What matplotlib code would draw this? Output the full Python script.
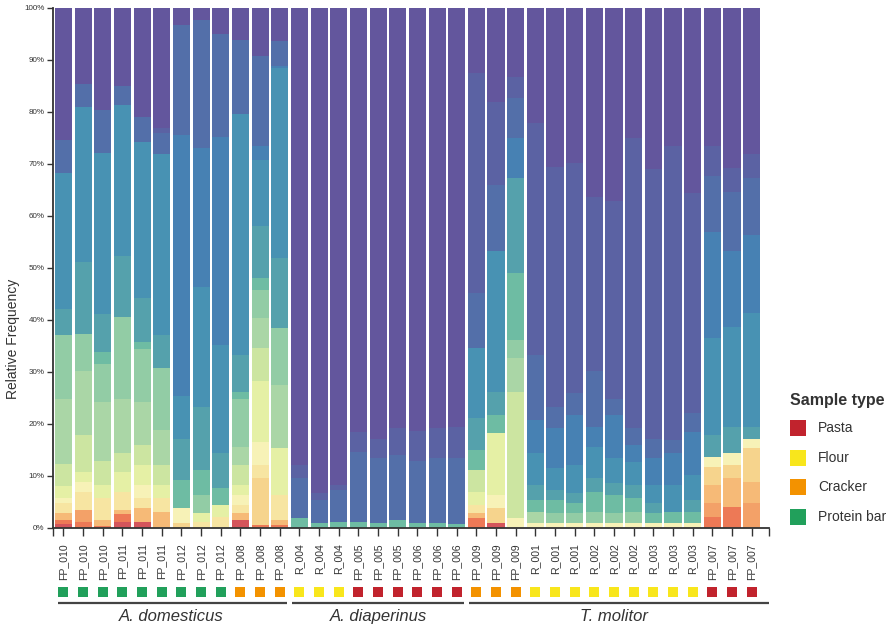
import numpy as np
import matplotlib
matplotlib.use("Agg")
import matplotlib.pyplot as plt
from matplotlib.colors import rgb_to_hsv, hsv_to_rgb
from matplotlib.patches import Rectangle

plt.rcParams['font.family'] = ['Liberation Sans', 'DejaVu Sans']

# --- Sample labels and types (left to right) ---
domesticus_ids = ["FP_010"] * 3 + ["FP_011"] * 3 + ["FP_012"] * 3 + ["FP_008"] * 3
domesticus_types = ["Protein bar"] * 9 + ["Cracker"] * 3
diaperinus_ids = ["R_004"] * 3 + ["FP_005"] * 3 + ["FP_006"] * 3
diaperinus_types = ["Flour"] * 3 + ["Pasta"] * 6
molitor_ids = ["FP_009"] * 3 + ["R_001"] * 3 + ["R_002"] * 3 + ["R_003"] * 3 + ["FP_007"] * 3
molitor_types = ["Cracker"] * 3 + ["Flour"] * 9 + ["Pasta"] * 3

groups = ["A. domesticus", "A. diaperinus", "T. molitor"]
type_names = ["Pasta", "Flour", "Cracker", "Protein bar"]

# --- Relative frequency (%) of each taxon layer per sample, bottom layer first ---
domesticus = [
    [0, 0.7, 0.8, 0, 1.3, 0, 2.0, 0.9, 2.3, 4.4, 12.5, 12.2, 0, 5.1, 26.0, 0, 6.4, 0, 25.4],
    [0, 0, 1.2, 2.3, 0, 0, 3.5, 1.9, 1.9, 7.1, 12.2, 7.3, 0, 13.8, 29.8, 0, 4.3, 0, 14.7],
    [0, 0, 0.3, 0, 1.2, 0, 4.2, 0, 2.6, 4.5, 11.5, 7.2, 2.4, 7.2, 31.1, 0, 8.2, 0, 19.6],
    [0, 1.2, 1.4, 0, 0.9, 0, 3.5, 0, 3.8, 3.6, 10.5, 15.7, 0, 11.8, 29.0, 0, 3.6, 0, 15.0],
    [0, 1.2, 0, 0, 2.6, 0, 1.9, 2.6, 3.8, 3.9, 8.3, 10.2, 1.3, 8.4, 30.1, 0, 4.7, 0, 21.0],
    [0, 0, 0, 0, 3.1, 0, 2.6, 0, 2.6, 3.8, 6.7, 11.9, 0, 6.4, 34.9, 0, 3.9, 1.1, 23.0],
    [0, 0, 0, 0, 0, 0.9, 0, 2.9, 0, 0, 0, 0, 5.4, 8.0, 8.1, 50.2, 21.3, 0, 3.2],
    [0, 0, 0, 0, 0, 0, 1.2, 0, 1.6, 0, 0, 3.6, 4.8, 12.1, 23.1, 26.6, 24.7, 0, 2.3],
    [0, 0, 0, 0, 0, 0, 2.2, 0, 2.2, 0, 0, 0, 3.2, 6.8, 20.8, 39.9, 19.9, 0, 5.0],
    [0, 1.5, 0, 0, 1.3, 0, 1.6, 2.0, 1.9, 3.8, 3.5, 9.3, 1.3, 7.0, 46.4, 0, 14.3, 0, 6.1],
    [0, 0, 0.6, 0, 0, 9.0, 2.5, 4.5, 11.6, 6.4, 5.7, 5.5, 2.2, 10.0, 12.8, 2.6, 17.3, 0, 9.3],
    [0, 0, 0.6, 0, 0.9, 0, 4.9, 0, 8.9, 0, 12.2, 10.9, 0, 13.5, 36.5, 0.5, 4.8, 0, 6.3],
]
diaperinus = [
    [0, 0, 0, 0, 0, 0, 0, 0, 0, 0, 0, 0, 1.9, 0, 0, 0, 7.7, 2.5, 87.9],
    [0, 0, 0, 0, 0, 0, 0, 0, 0, 0, 0, 0, 0.9, 0, 0, 0, 4.5, 1.3, 93.3],
    [0, 0, 0, 0, 0, 0, 0, 0, 0, 0, 0, 0, 1.2, 0, 0, 0, 6.1, 1.0, 91.7],
    [0, 0, 0, 0, 0, 0, 0, 0, 0, 0, 0, 0, 1.2, 0, 0, 0, 13.5, 3.8, 81.5],
    [0, 0, 0, 0, 0, 0, 0, 0, 0, 0, 0, 0, 0.9, 0, 0, 0, 12.5, 3.8, 82.8],
    [0, 0, 0, 0, 0, 0, 0, 0, 0, 0, 0, 0, 1.5, 0, 0, 0, 12.5, 5.2, 80.8],
    [0, 0, 0, 0, 0, 0, 0, 0, 0, 0, 0, 0, 0.9, 0, 0, 0, 11.9, 5.9, 81.3],
    [0, 0, 0, 0, 0, 0, 0, 0, 0, 0, 0, 0, 0.9, 0, 0, 0, 12.5, 5.8, 80.8],
    [0, 0, 0, 0, 0, 0, 0, 0, 0, 0, 0, 0, 0.7, 0, 0, 0, 12.7, 6.1, 80.5],
]
molitor = [
    [0, 0, 1.9, 0, 0.9, 0, 1.6, 0, 2.6, 4.2, 0, 0, 3.8, 6.1, 13.5, 0, 10.5, 42.4, 12.5],
    [0, 0.9, 0, 0, 0, 2.9, 0, 2.6, 11.8, 0, 0, 0, 3.5, 4.5, 27.0, 0, 12.8, 16.0, 18.0],
    [0, 0, 0, 0, 0, 0, 0, 1.9, 0, 24.3, 6.4, 3.6, 12.8, 18.3, 0, 7.7, 7.7, 4.1, 13.2],
    [0, 0, 0, 0, 0, 0, 0, 0.9, 0, 0, 2.2, 0, 2.3, 2.9, 6.1, 6.4, 12.5, 44.5, 22.2],
    [0, 0, 0, 0, 0, 0, 0, 0.9, 0, 0, 0, 1.9, 2.6, 1.9, 4.2, 7.7, 4.1, 46.1, 30.6],
    [0, 0, 0, 0, 0, 0, 0, 0.9, 0, 0, 0, 1.9, 2.0, 1.9, 5.4, 9.6, 4.2, 44.3, 29.8],
    [0, 0, 0, 0, 0, 0, 0, 0.9, 0, 0, 0, 2.2, 3.9, 2.6, 6.0, 3.9, 10.6, 33.5, 36.4],
    [0, 0, 0, 0, 0, 0, 0, 0.9, 0, 0, 0, 1.9, 3.6, 2.2, 4.8, 8.3, 3.2, 38.0, 37.1],
    [0, 0, 0, 0, 0, 0, 0, 0.9, 0, 0, 0, 2.2, 2.6, 2.6, 4.4, 3.2, 3.3, 55.8, 25.0],
    [0, 0, 0, 0, 0, 0, 0, 0.9, 0, 0, 0, 0, 1.9, 2.0, 3.5, 5.1, 3.8, 51.8, 31.0],
    [0, 0, 0, 0, 0, 0, 0, 0.9, 0, 0, 0, 0, 2.2, 0, 5.2, 6.1, 2.5, 56.5, 26.6],
    [0, 0, 0, 0, 0, 0, 0, 0.9, 0, 0, 0, 0, 2.2, 2.3, 4.8, 8.3, 3.6, 42.3, 35.6],
    [0, 0, 2.2, 2.6, 3.5, 3.5, 0, 1.9, 0, 0, 0, 0, 0, 4.2, 18.6, 20.5, 10.7, 5.7, 26.6],
    [0, 0, 4.1, 0, 5.5, 2.5, 0, 2.3, 0, 0, 0, 0, 0, 5.1, 19.2, 14.5, 11.5, 4.5, 30.8],
    [0, 0, 0, 4.8, 4.1, 6.4, 0, 1.9, 0, 0, 0, 0, 0, 2.3, 21.8, 15.1, 10.9, 4.7, 28.0],
]

# --- Styling ---
LAYER_POS = [0.05, 0.12, 0.2, 0.27, 0.32, 0.38, 0.43, 0.48, 0.58, 0.64,
             0.7, 0.74, 0.8, 0.85, 0.88, 0.915, 0.95, 0.975, 1.0]
TYPE_COLORS = {"Pasta": "#c1232d", "Flour": "#f8e61c", "Cracker": "#f39200",
               "Protein bar": "#21a05b"}
TEXT_COLOR = "#333333"
W, H = 890, 629

# Spectral palette, toned down a little to match the printed figure
hsv = rgb_to_hsv(plt.get_cmap("Spectral")(LAYER_POS)[:, :3])
hsv[:, 1] *= 0.88
hsv[:, 2] *= 0.97
layer_colors = hsv_to_rgb(hsv)

values = np.array(domesticus + diaperinus + molitor)
ids = domesticus_ids + diaperinus_ids + molitor_ids
types = domesticus_types + diaperinus_types + molitor_types
sizes = [len(domesticus), len(diaperinus), len(molitor)]
x = np.arange(len(ids))

fig = plt.figure(figsize=(W / 100, H / 100), dpi=100)
ax = fig.add_axes([53 / W, 1 - 528 / H, (769 - 53) / W, 520 / H])

bottoms = np.zeros(len(ids))
for k in range(values.shape[1]):
    ax.bar(x, values[:, k], bottom=bottoms, width=0.87,
           color=layer_colors[k], linewidth=0)
    bottoms += values[:, k]

ax.set_xlim(-0.53, 35.88)
ax.set_ylim(0, 100)
for side in ["top", "right"]:
    ax.spines[side].set_visible(False)
for side in ["left", "bottom"]:
    ax.spines[side].set_color(TEXT_COLOR)
    ax.spines[side].set_linewidth(1.3)

ax.set_yticks(range(0, 101, 10))
ax.set_yticklabels([f"{v}%" for v in range(0, 101, 10)])
ax.tick_params(axis="y", length=4, width=1, color=TEXT_COLOR,
               labelcolor=TEXT_COLOR, labelsize=5.8, pad=2)
ax.set_xticks(x)
ax.set_xticklabels(ids, rotation=90)
ax.set_xticks([-0.53, 35.88], minor=True)
ax.tick_params(axis="x", which="both", length=6, width=1, color=TEXT_COLOR,
               labelcolor=TEXT_COLOR, labelsize=7.6, pad=5)
ax.set_ylabel("Relative Frequency", fontsize=10, color=TEXT_COLOR)
ax.yaxis.set_label_coords(-0.046, 0.363)

# sample type squares under tick labels
trans = ax.get_xaxis_transform()
sq_w, sq_h = 10 / 19.66, 10 / 520
for i, t in enumerate(types):
    ax.add_patch(Rectangle((i - sq_w / 2, -0.123 - sq_h / 2), sq_w, sq_h,
                           transform=trans, color=TYPE_COLORS[t],
                           clip_on=False, linewidth=0))

# group underlines and names
start = 0
spans = [(-0.28, 11.37), (11.62, 20.37), (20.62, 35.88)]
for name, n, (x0, x1) in zip(groups, sizes, spans):
    ax.plot([x0, x1], [-0.144, -0.144], transform=trans, color="#444444",
            linewidth=1.6, clip_on=False, solid_capstyle="butt")
    ax.text(start + (n - 1) / 2, -0.171, name, transform=trans, ha="center",
            va="center", fontsize=12, style="italic", color=TEXT_COLOR)
    start += n

# legend
fig.text(790 / W, 1 - 400 / H, "Sample type", fontsize=11.5, weight="bold",
         color=TEXT_COLOR, va="center", ha="left")
for j, name in enumerate(type_names):
    yc = 428 + j * 29.7
    fig.add_artist(Rectangle((790 / W, 1 - (yc + 8) / H), 16 / W, 16 / H,
                             transform=fig.transFigure,
                             color=TYPE_COLORS[name], linewidth=0))
    fig.text(818 / W, 1 - yc / H, name, fontsize=10, color=TEXT_COLOR,
             va="center", ha="left")

fig.savefig("out.png", dpi=100, facecolor="white")
